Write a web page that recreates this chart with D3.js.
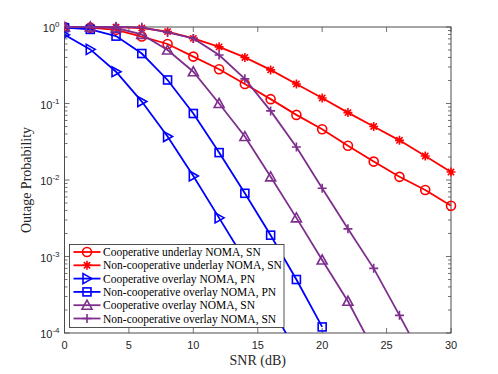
<!DOCTYPE html>
<html>
<head>
<meta charset="utf-8">
<script src="https://cdn.jsdelivr.net/npm/d3@7"></script>
<style>
  body { margin: 0; background: #fff; }
  svg { display: block; }
</style>
</head>
<body>
<div id="chart"></div>
<script>
// SNR grid (dB)
const snr = [0, 2, 4, 6, 8, 10, 12, 14, 16, 18, 20, 22, 24, 26, 28, 30];

// outage probability
const coopUnderlaySN = [0.999, 0.98, 0.92, 0.75, 0.6, 0.41, 0.28, 0.18, 0.114, 0.071, 0.046, 0.028, 0.0174, 0.011, 0.0074, 0.0046];
const nonCoopUnderlaySN = [1, 1, 0.995, 0.97, 0.87, 0.71, 0.55, 0.40, 0.275, 0.18, 0.118, 0.076, 0.050, 0.033, 0.0206, 0.0127];
const coopOverlayPN = [0.79, 0.51, 0.26, 0.106, 0.037, 0.0113, 0.0032, 9.0e-4, 2.3e-4, 5.6e-5];
const nonCoopOverlayPN = [0.98, 0.93, 0.76, 0.45, 0.203, 0.074, 0.0228, 0.0067, 0.0019, 5.0e-4, 1.2e-4];
const coopOverlaySN = [1, 1, 0.97, 0.8, 0.5, 0.26, 0.10, 0.037, 0.011, 0.0032, 9.0e-4, 2.6e-4, 6.0e-5];
const nonCoopOverlaySN = [1, 1, 1, 0.99, 0.85, 0.71, 0.43, 0.21, 0.08, 0.027, 0.0078, 0.0023, 7.0e-4, 1.7e-4, 4.0e-5];

const xTicks = [0, 5, 10, 15, 20, 25, 30];
const yTicks = [1e-4, 1e-3, 1e-2, 1e-1, 1];

const seriesNames = [
  'Cooperative underlay NOMA, SN',
  'Non-cooperative underlay NOMA, SN',
  'Cooperative overlay NOMA, PN',
  'Non-cooperative overlay NOMA, PN',
  'Cooperative overlay NOMA, SN',
  'Non-cooperative overlay NOMA, SN'
];
const seriesValues = [coopUnderlaySN, nonCoopUnderlaySN, coopOverlayPN, nonCoopOverlayPN, coopOverlaySN, nonCoopOverlaySN];
const seriesColors = ['#ff0000', '#ff0000', '#0000ff', '#0000ff', '#7e2f8e', '#7e2f8e'];
const seriesMarkers = ['circle', 'asterisk', 'triangleRight', 'square', 'triangleUp', 'plus'];

const svgWidth = 498, svgHeight = 374;
const margin = { top: 27, right: 47, bottom: 41, left: 64.5 };
const chartWidth = svgWidth - margin.left - margin.right;
const chartHeight = svgHeight - margin.top - margin.bottom;

const svg = d3.select('#chart').append('svg')
  .attr('width', svgWidth)
  .attr('height', svgHeight);

const chart = svg.append('g')
  .attr('transform', `translate(${margin.left}, ${margin.top})`);

const xScale = d3.scaleLinear().domain([0, 30]).range([0, chartWidth]);
const yScale = d3.scaleLog().domain([1e-4, 1]).range([chartHeight, 0]);

const axisColor = '#4d4d4d';

// clip for curves
svg.append('defs').append('clipPath').attr('id', 'clip')
  .append('rect').attr('x', 0).attr('y', -8).attr('width', chartWidth + 8).attr('height', chartHeight + 8);

// minor ticks on log axis
const minorVals = [];
for (let e = -4; e < 0; e++) {
  for (let m = 2; m <= 9; m++) minorVals.push(m * Math.pow(10, e));
}

const tickG = chart.append('g');
minorVals.forEach(v => {
  const y = yScale(v);
  tickG.append('line').attr('x1', 0).attr('x2', 3).attr('y1', y).attr('y2', y)
    .attr('stroke', axisColor).attr('stroke-width', 0.8);
  tickG.append('line').attr('x1', chartWidth).attr('x2', chartWidth - 3).attr('y1', y).attr('y2', y)
    .attr('stroke', axisColor).attr('stroke-width', 0.8);
});
yTicks.forEach(v => {
  const y = yScale(v);
  tickG.append('line').attr('x1', 0).attr('x2', 5).attr('y1', y).attr('y2', y)
    .attr('stroke', axisColor).attr('stroke-width', 0.8);
  tickG.append('line').attr('x1', chartWidth).attr('x2', chartWidth - 5).attr('y1', y).attr('y2', y)
    .attr('stroke', axisColor).attr('stroke-width', 0.8);
});
xTicks.forEach(v => {
  const x = xScale(v);
  tickG.append('line').attr('x1', x).attr('x2', x).attr('y1', chartHeight).attr('y2', chartHeight - 5)
    .attr('stroke', axisColor).attr('stroke-width', 0.8);
  tickG.append('line').attr('x1', x).attr('x2', x).attr('y1', 0).attr('y2', 5)
    .attr('stroke', axisColor).attr('stroke-width', 0.8);
});

// x tick labels
chart.selectAll('.xlab').data(xTicks).enter().append('text')
  .attr('x', d => xScale(d))
  .attr('y', chartHeight + 16)
  .attr('text-anchor', 'middle')
  .style('font-family', 'Liberation Sans, Arial, sans-serif')
  .style('font-size', '11px')
  .attr('fill', '#262626')
  .text(d => d);

// y tick labels 10^n
yTicks.forEach(v => {
  const e = Math.round(Math.log10(v));
  const t = chart.append('text')
    .attr('x', -5)
    .attr('y', yScale(v) + 5)
    .attr('text-anchor', 'end')
    .style('font-family', 'Liberation Sans, Arial, sans-serif')
    .style('font-size', '11px')
    .attr('fill', '#262626');
  t.append('tspan').text('10');
  t.append('tspan').attr('dy', -5).style('font-size', '8px').text(e);
});

// box
chart.append('rect')
  .attr('x', 0).attr('y', 0)
  .attr('width', chartWidth).attr('height', chartHeight)
  .attr('fill', 'none').attr('stroke', axisColor).attr('stroke-width', 1);

// marker drawing
function drawMarker(g, type, color) {
  const s = 4.5;
  if (type === 'circle') {
    g.append('circle').attr('r', s).attr('fill', 'none').attr('stroke', color).attr('stroke-width', 1.6);
  } else if (type === 'square') {
    g.append('rect').attr('x', -s + 0.5).attr('y', -s + 0.5).attr('width', 2 * s - 1).attr('height', 2 * s - 1)
      .attr('fill', 'none').attr('stroke', color).attr('stroke-width', 1.6);
  } else if (type === 'triangleRight') {
    g.append('path').attr('d', `M${s + 0.5},0 L${-s + 0.5},${-s - 0.5} L${-s + 0.5},${s + 0.5} Z`)
      .attr('fill', 'none').attr('stroke', color).attr('stroke-width', 1.6);
  } else if (type === 'triangleUp') {
    g.append('path').attr('d', `M0,${-s - 0.5} L${s + 0.5},${s - 0.5} L${-s - 0.5},${s - 0.5} Z`)
      .attr('fill', 'none').attr('stroke', color).attr('stroke-width', 1.6);
  } else if (type === 'plus') {
    g.append('path').attr('d', `M${-s},0 L${s},0 M0,${-s} L0,${s}`)
      .attr('fill', 'none').attr('stroke', color).attr('stroke-width', 1.6);
  } else if (type === 'asterisk') {
    const d = s * 0.7;
    g.append('path').attr('d', `M${-s},0 L${s},0 M0,${-s} L0,${s} M${-d},${-d} L${d},${d} M${-d},${d} L${d},${-d}`)
      .attr('fill', 'none').attr('stroke', color).attr('stroke-width', 1.6);
  }
}

const line = d3.line()
  .x(d => xScale(d[0]))
  .y(d => yScale(d[1]));

const plot = chart.append('g').attr('clip-path', 'url(#clip)');

seriesValues.forEach((vals, i) => {
  const pts = vals.map((v, j) => [snr[j], v]);
  plot.append('path')
    .datum(pts)
    .attr('d', line)
    .attr('fill', 'none')
    .attr('stroke', seriesColors[i])
    .attr('stroke-width', 1.8);
  pts.filter(p => p[1] >= 1e-4).forEach(p => {
    const g = plot.append('g').attr('transform', `translate(${xScale(p[0])}, ${yScale(p[1])})`);
    drawMarker(g, seriesMarkers[i], seriesColors[i]);
  });
});

// legend
const legend = svg.append('g').attr('transform', 'translate(69.5, 244.5)');
legend.append('rect')
  .attr('width', 214.5).attr('height', 83)
  .attr('fill', '#fff').attr('stroke', '#262626').attr('stroke-width', 0.8);

seriesNames.forEach((name, i) => {
  const y = 7.5 + i * 13.3;
  const row = legend.append('g').attr('transform', `translate(0, ${y})`);
  row.append('line').attr('x1', 4).attr('x2', 31).attr('y1', 0).attr('y2', 0)
    .attr('stroke', seriesColors[i]).attr('stroke-width', 1.8);
  const mg = row.append('g').attr('transform', 'translate(17.5, 0)');
  drawMarker(mg, seriesMarkers[i], seriesColors[i]);
  row.append('text')
    .attr('x', 33.5).attr('y', 4)
    .style('font-family', 'Liberation Serif, Times New Roman, serif')
    .style('font-size', '11.5px')
    .attr('fill', '#000')
    .text(name);
});

// axis labels
svg.append('text')
  .attr('x', margin.left + chartWidth / 2)
  .attr('y', 365)
  .attr('text-anchor', 'middle')
  .style('font-family', 'Liberation Serif, Times New Roman, serif')
  .style('font-size', '14px')
  .attr('fill', '#262626')
  .text('SNR (dB)');

svg.append('text')
  .attr('transform', `translate(31, ${margin.top + chartHeight / 2}) rotate(-90)`)
  .attr('text-anchor', 'middle')
  .style('font-family', 'Liberation Serif, Times New Roman, serif')
  .style('font-size', '14px')
  .attr('fill', '#262626')
  .text('Outage Probability');
</script>
</body>
</html>
